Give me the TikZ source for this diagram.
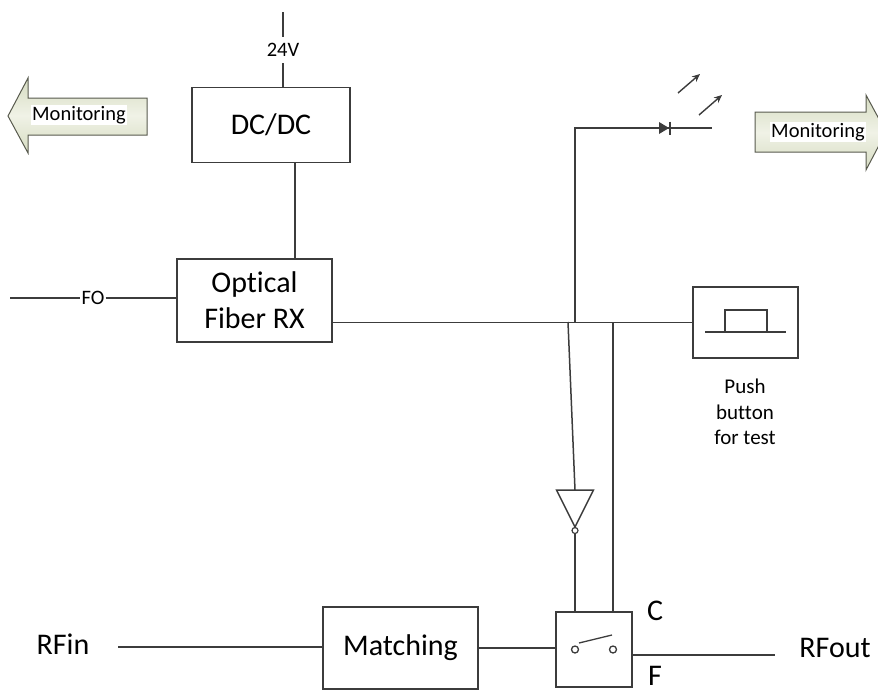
\documentclass[tikz,border=0pt]{standalone}
\usepackage{fontspec}
\setmainfont[Ligatures=NoCommon]{Carlito}
\usetikzlibrary{arrows.meta,positioning}

\definecolor{wiregray}{RGB}{60,60,60}
\definecolor{arrowedge}{RGB}{88,90,78}
\definecolor{arrowdark}{RGB}{214,220,194}
\definecolor{arrowlight}{RGB}{240,242,230}
\newcommand{\bigfont}{\fontsize{30}{36}\selectfont}
\newcommand{\smallfont}{\fontsize{20.5}{24}\selectfont}

\begin{document}
\begin{tikzpicture}[x=1pt, y=-1pt,
		box/.style={draw=wiregray, line width=1.4pt, inner sep=0pt, font=\bigfont, align=center},
		wire/.style={draw=wiregray, line width=1.8pt},
		lbl/.style={inner sep=0pt, font=\bigfont},
		monarrow/.style={draw=arrowedge, line width=1pt, top color=arrowdark, bottom color=arrowdark, middle color=arrowlight}]
				\useasboundingbox (0,0) rectangle (878,694);

				\path[monarrow] (8,116) -- (28,78) -- (28,98) -- (147,98) -- (147,135) -- (28,135) -- (28,153) -- cycle;
				\node[font=\smallfont, fill=white, inner sep=1pt] (mon left) at (79,115) {Monitoring};
				\path[monarrow] (755,112) -- (866,112) -- (866,95) -- (886,132) -- (866,170) -- (866,152) -- (755,152) -- cycle;
				\node[font=\smallfont, fill=white, inner sep=1pt] (mon right) at (818,132) {Monitoring};

				\node[box, minimum width=158, minimum height=75] (dcdc) at (271,125) {DC/DC};
				\node[box, minimum width=155, minimum height=83] (ofrx) at (254.5,300.5) {Optical\\Fiber RX};
				\node[box, minimum width=105, minimum height=71] (push) at (745.5,322.5) {};
				\node[box, minimum width=155, minimum height=82] (match) at (400.5,648) {Matching};
				\node[box, minimum width=76, minimum height=75] (sw) at (594,649.5) {};

				\node[font=\smallfont, inner sep=0pt, minimum height=26] (v24) at (283,50) {24V};
				\node[font=\smallfont, inner sep=1pt] (fo) at (93,298) {FO};
				\node[lbl] (rfin) at (63,644) {RFin};
				\node[lbl] (rfout) at (835,648) {RFout};
				\node[lbl] (c lbl) at (655,611) {C};
				\node[lbl] (f lbl) at (655,676) {F};
				\node[font=\fontsize{21}{25.5}\selectfont, align=center, inner sep=0pt] (push lbl) at (745,412) {Push\\button\\for test};

				\coordinate (v top) at (283,12);
				\coordinate (fo in) at (10,298);
				\coordinate (tap) at (575,322);
				\coordinate (tap2) at (613,322);
				\coordinate (led) at (665,128);
				\coordinate (led end) at (712,128);
				\coordinate (inv) at (575,490);
				\coordinate (inv out) at (575,534);
				\coordinate (rfin end) at (118,647);
				\coordinate (rfout end) at (775,655);

				\draw[wire] (v top) -- (v24.north);
				\draw[wire] (v24.south) -- (v24.south |- dcdc.north);
				\draw[wire] ([xshift=24]dcdc.south) -- ([xshift=24]dcdc.south |- ofrx.north);
				\draw[wire] (fo in) -- (fo.west);
				\draw[wire] (fo.east) -- (fo -| ofrx.west);
				\draw[wire] (ofrx.east |- push.west) -- (push.west);

				\draw[wire] (tap) |- (led end);
				\fill[wiregray] ([shift={(-6,-6)}]led) -- ([shift={(-6,6)}]led) -- ([shift={(4,0)}]led) -- cycle;
				\draw[wiregray, line width=1.8pt] ([shift={(5,-6.5)}]led) -- ([shift={(5,6.5)}]led);
				\draw[wiregray, line width=1.4pt, -{Stealth[length=8,width=7]}] (678,93) -- (700,74);
				\draw[wiregray, line width=1.4pt, -{Stealth[length=8,width=7]}] (699,115) -- (722,95);

				\draw[wiregray, line width=1.5pt] ([xshift=-7]tap) -- (inv);
				\draw[wiregray, line width=1.5pt] ([xshift=-18.5]inv) -- ([xshift=18.5]inv) -- ([yshift=-37]inv) -- cycle;
				\draw[wiregray, line width=1.2pt] ([yshift=-40.5]inv) circle (3);
				\draw[wire] (inv out) -- (inv out |- sw.north);
				\draw[wire] (tap2) -- (tap2 |- sw.north);

				\draw[wiregray, line width=1.3pt] ([xshift=-19]sw.center) circle (3.5) ([xshift=19]sw.center) circle (3.5);
				\draw[wiregray, line width=1.3pt] ([shift={(-15,-6.5)}]sw.center) -- ([shift={(18,-14.5)}]sw.center);

				\draw[wiregray, line width=1.4pt] ([shift={(-40.5,9.5)}]push.center) -- ([shift={(40.5,9.5)}]push.center);
				\draw[wiregray, line width=1.4pt] ([shift={(-20.5,9.5)}]push.center) |- ([shift={(21.5,-12.5)}]push.center) -- ([shift={(21.5,9.5)}]push.center);

				\draw[wire] (rfin end) -- (rfin end -| match.west);
				\draw[wire] (match.east) -- (match.east -| sw.west);
				\draw[wire] (sw.east |- rfout end) -- (rfout end);
			\end{tikzpicture}
\end{document}
